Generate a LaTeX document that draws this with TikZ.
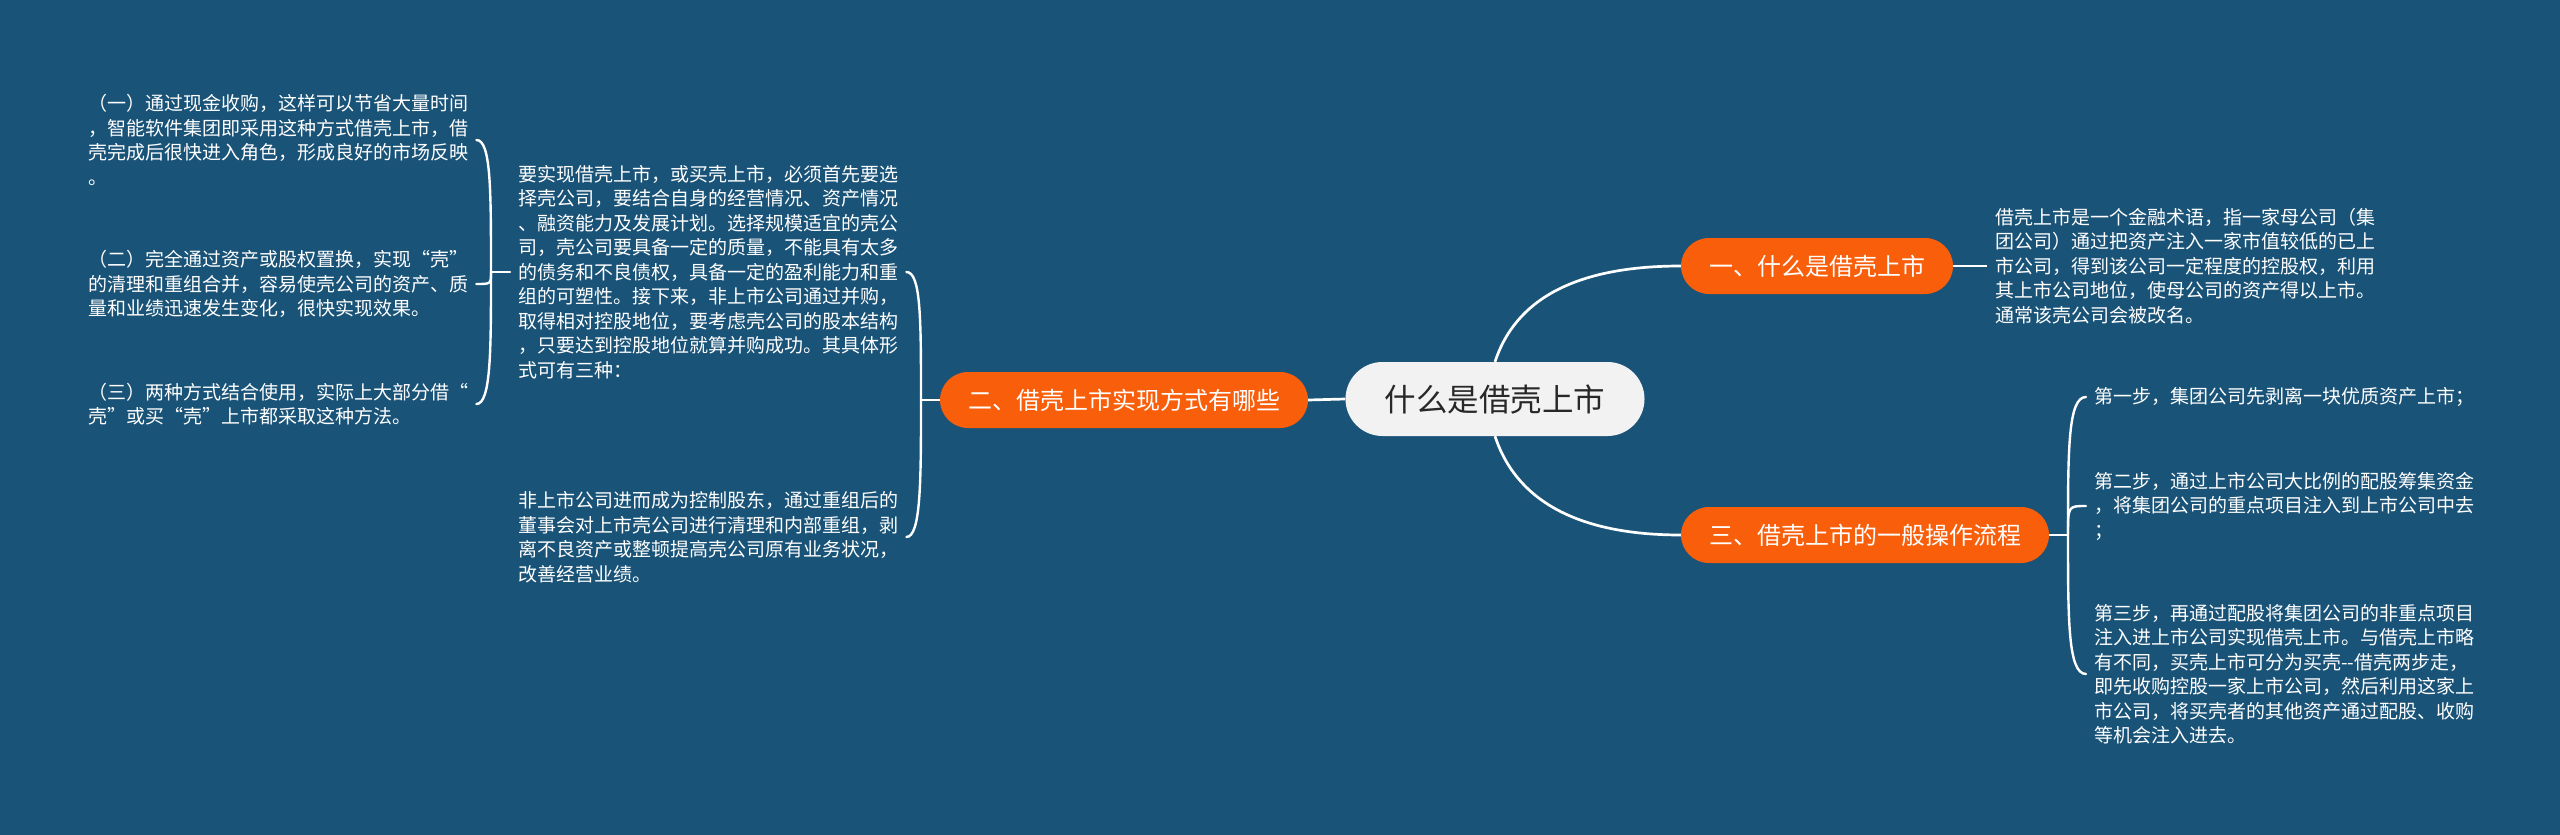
\documentclass[tikz,border=0pt]{standalone}
\usepackage{fontspec}
\newfontfamily\cjk{Noto Sans CJK SC}
\definecolor{bg}{RGB}{26,83,120}
\definecolor{orng}{RGB}{249,94,10}
\definecolor{rootfill}{RGB}{242,242,242}
\definecolor{roottext}{RGB}{40,40,40}
\begin{document}
\begin{tikzpicture}[x=1pt,y=-1pt,
  rootbox/.style={fill=rootfill, text=roottext, rounded corners=37pt, minimum height=74pt, minimum width=299pt, inner sep=0pt, font=\cjk\fontsize{31.5}{36}\selectfont},
  branchbox/.style={fill=orng, text=white, rounded corners=28pt, minimum height=56pt, inner xsep=28pt, inner ysep=0pt, font=\cjk\fontsize{24}{28}\selectfont},
  leaf/.style={text=white, align=left, inner xsep=8pt, inner ysep=0pt, anchor=west, font=\cjk\fontsize{19}{24.5}\selectfont},
  link/.style={draw=white, line width=2.7pt},
  brace/.style={draw=white, line width=2.4pt, line cap=round},
]
\fill[bg] (0,0) rectangle (2560,835);
\useasboundingbox (0,0) rectangle (2560,835);

% main nodes
\node[rootbox] (R) at (1495,399) {什么是借壳上市};
\node[branchbox] (B1) at (1817,266) {一、什么是借壳上市};
\node[branchbox] (B2) at (1124,400) {二、借壳上市实现方式有哪些};
\node[branchbox] (B3) at (1865,535) {三、借壳上市的一般操作流程};

% leaves
\node[leaf] (R1) at (1987,266) {借壳上市是一个金融术语，指一家母公司（集\\团公司）通过把资产注入一家市值较低的已上\\市公司，得到该公司一定程度的控股权，利用\\其上市公司地位，使母公司的资产得以上市。\\通常该壳公司会被改名。};

\node[leaf] (LA) at (510,272) {要实现借壳上市，或买壳上市，必须首先要选\\择壳公司，要结合自身的经营情况、资产情况\\、融资能力及发展计划。选择规模适宜的壳公\\司，壳公司要具备一定的质量，不能具有太多\\的债务和不良债权，具备一定的盈利能力和重\\组的可塑性。接下来，非上市公司通过并购，\\取得相对控股地位，要考虑壳公司的股本结构\\，只要达到控股地位就算并购成功。其具体形\\式可有三种：};
\node[leaf] (LB) at (510,537) {非上市公司进而成为控制股东，通过重组后的\\董事会对上市壳公司进行清理和内部重组，剥\\离不良资产或整顿提高壳公司原有业务状况，\\改善经营业绩。};

\node[leaf] (FL1) at (80,140) {（一）通过现金收购，这样可以节省大量时间\\，智能软件集团即采用这种方式借壳上市，借\\壳完成后很快进入角色，形成良好的市场反映\\。};
\node[leaf] (FL2) at (80,284) {（二）完全通过资产或股权置换，实现“壳”\\的清理和重组合并，容易使壳公司的资产、质\\量和业绩迅速发生变化，很快实现效果。};
\node[leaf] (FL3) at (80,404) {（三）两种方式结合使用，实际上大部分借“\\壳”或买“壳”上市都采取这种方法。};

\node[leaf] (S1) at (2086,397) {第一步，集团公司先剥离一块优质资产上市；};
\node[leaf] (S2) at (2086,506) {第二步，通过上市公司大比例的配股筹集资金\\，将集团公司的重点项目注入到上市公司中去\\；};
\node[leaf] (S3) at (2086,674) {第三步，再通过配股将集团公司的非重点项目\\注入进上市公司实现借壳上市。与借壳上市略\\有不同，买壳上市可分为买壳-{}-借壳两步走，\\即先收购控股一家上市公司，然后利用这家上\\市公司，将买壳者的其他资产通过配股、收购\\等机会注入进去。};

% main connectors
\draw[link] (R.north) .. controls (1512,310) and (1560,266) .. (B1.west);
\draw[link] (R.south) .. controls (1512,488) and (1560,535) .. (B3.west);
\draw[link] (R.west) -- (B2.east);
\draw[link] (B1.east) -- (R1.west);

% bracket of branch 2
\coordinate (P2) at (921,400);
\draw[link] (B2.west) -- (P2);
\draw[brace] (P2) .. controls (921,320) and (921,272) .. (LA.east);
\draw[brace] (P2) .. controls (921,480) and (921,537) .. (LB.east);

% far-left bracket
\coordinate (P1) at (491,272);
\draw[brace] (LA.west) -- (P1);
\draw[brace] (P1) .. controls (491,190) and (491,140) .. (FL1.east);
\draw[brace] (P1) .. controls (491,284) .. (FL2.east);
\draw[brace] (P1) .. controls (491,350) and (491,404) .. (FL3.east);

% right bracket of branch 3
\coordinate (P3) at (2068,535);
\draw[link] (B3.east) -- (P3);
\draw[brace] (P3) .. controls (2068,450) and (2068,397) .. (S1.west);
\draw[brace] (P3) .. controls (2068,506) .. (S2.west);
\draw[brace] (P3) .. controls (2068,620) and (2068,674) .. (S3.west);
\end{tikzpicture}
\end{document}
